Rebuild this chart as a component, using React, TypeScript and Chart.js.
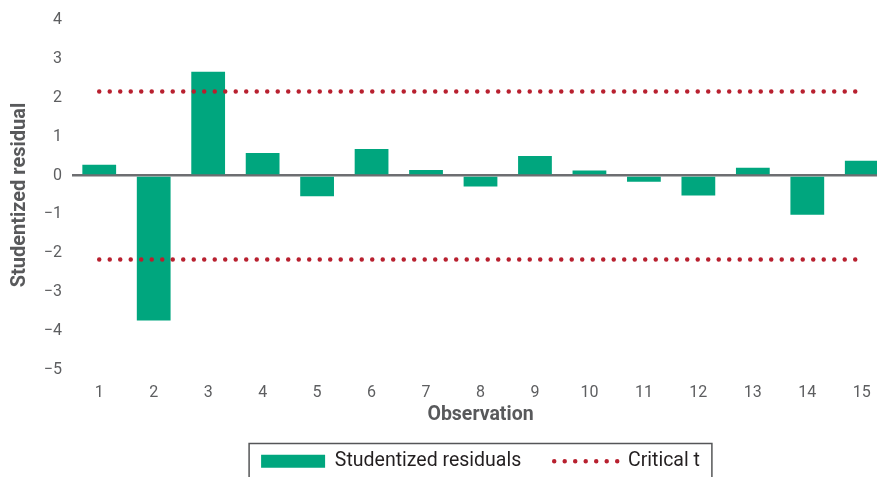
import React, { useEffect, useRef } from "react";
import { Chart, registerables } from "chart.js";

Chart.register(...registerables);

const observations = ["1", "2", "3", "4", "5", "6", "7", "8", "9", "10", "11", "12", "13", "14", "15"];
const residuals = [0.28, -3.73, 2.67, 0.58, -0.53, 0.68, 0.14, -0.28, 0.5, 0.13, -0.16, -0.51, 0.2, -1.01, 0.38];
const criticalUpper = [2.16, 2.16, 2.16, 2.16, 2.16, 2.16, 2.16, 2.16, 2.16, 2.16, 2.16, 2.16, 2.16, 2.16, 2.16];
const criticalLower = [-2.16, -2.16, -2.16, -2.16, -2.16, -2.16, -2.16, -2.16, -2.16, -2.16, -2.16, -2.16, -2.16, -2.16, -2.16];
const yTicks = [4, 3, 2, 1, 0, -1, -2, -3, -4, -5];

const GREEN = "#00a67e";
const RED = "#b8202f";
const TICK = "#5d5e60";
const TITLE = "#58595b";
const FONT = "Roboto, 'Noto Sans', sans-serif";

const legendBorder = {
  id: "legendBorder",
  afterDraw(chart: any) {
    const lg = chart.legend;
    if (!lg || !lg.legendHitBoxes || !lg.legendHitBoxes.length) return;
    const hb = lg.legendHitBoxes;
    let l = Infinity, r = -Infinity, t = Infinity;
    hb.forEach((b: any) => {
      l = Math.min(l, b.left);
      r = Math.max(r, b.left + b.width);
      t = Math.min(t, b.top);
    });
    const ctx = chart.ctx;
    ctx.save();
    ctx.strokeStyle = "#555658";
    ctx.lineWidth = 1.5;
    ctx.strokeRect(l - 12, t - 8, r - l + 24, 80);
    ctx.restore();
  },
};

export default function App() {
  const ref = useRef<HTMLCanvasElement | null>(null);

  useEffect(() => {
    if (!ref.current) return;
    const chart = new Chart(ref.current, {
      type: "bar",
      data: {
        labels: observations,
        datasets: [
          {
            type: "bar",
            label: "Studentized residuals",
            data: residuals,
            backgroundColor: GREEN,
            borderWidth: 0,
            barPercentage: 0.62,
            categoryPercentage: 1,
            order: 2,
          },
          {
            type: "line",
            label: "Critical t",
            data: criticalUpper,
            borderColor: RED,
            borderWidth: 4.5,
            borderDash: [0, 10.5],
            borderCapStyle: "round",
            pointRadius: 0,
            fill: false,
            order: 0,
          },
          {
            type: "line",
            label: "Critical t",
            data: criticalLower,
            borderColor: RED,
            borderWidth: 4.5,
            borderDash: [0, 10.5],
            borderCapStyle: "round",
            pointRadius: 0,
            fill: false,
            order: 0,
          },
        ] as any,
      },
      options: {
        animation: false,
        responsive: false,
        maintainAspectRatio: false,
        layout: { padding: { top: 20, left: 0, right: 6, bottom: 0 } },
        plugins: {
          tooltip: { enabled: false },
          legend: {
            position: "bottom",
            fullSize: false,
            labels: {
              usePointStyle: true,
              pointStyleWidth: 64,
              boxHeight: 13,
              padding: 33,
              color: "#231f20",
              font: { family: FONT, size: 19.5 },
              generateLabels: (c: any) => {
                const ds = c.data.datasets;
                return [
                  {
                    text: ds[0].label,
                    fillStyle: GREEN,
                    strokeStyle: GREEN,
                    lineWidth: 0,
                    pointStyle: "rect",
                    hidden: false,
                    datasetIndex: 0,
                    fontColor: "#231f20",
                  },
                  {
                    text: ds[1].label,
                    fillStyle: "rgba(0,0,0,0)",
                    strokeStyle: RED,
                    lineWidth: 4.5,
                    lineDash: [0, 10.5],
                    lineCap: "round",
                    pointStyle: "line",
                    hidden: false,
                    datasetIndex: 1,
                    fontColor: "#231f20",
                  },
                ];
              },
            },
          },
        },
        scales: {
          x: {
            grid: { display: false },
            border: { display: false },
            ticks: { color: TICK, font: { family: FONT, size: 16 }, padding: 5 },
            title: {
              display: true,
              text: "Observation",
              color: TITLE,
              font: { family: FONT, size: 19.5, weight: "bold", lineHeight: 0.3 },
              padding: { top: 0, bottom: 0 },
            },
            afterFit: (s: any) => {
              s.height = 48.5;
            },
          },
          y: {
            min: -5,
            max: 4,
            afterBuildTicks: (s: any) => {
              s.ticks = yTicks.map((v) => ({ value: v }));
            },
            grid: {
              drawTicks: false,
              lineWidth: 2.5,
              color: (ctx: any) => (ctx.tick && ctx.tick.value === 0 ? "#6d6e71" : "rgba(0,0,0,0)"),
            },
            border: { display: false },
            ticks: {
              color: TICK,
              font: { family: FONT, size: 16 },
              padding: 10,
              callback: (v: any) => String(v).replace("-", "\u2212"),
            },
            title: {
              display: true,
              text: "Studentized residual",
              color: TITLE,
              font: { family: FONT, size: 20, weight: "bold" },
              padding: { top: 8, bottom: 0 },
            },
            afterFit: (s: any) => {
              s.width = 72;
            },
          },
        },
      },
      plugins: [legendBorder],
    });
    return () => chart.destroy();
  }, []);

  return (
    <div style={{ position: "fixed", left: 0, top: 0, width: 877, height: 477, overflow: "hidden", background: "#fff" }}>
      <canvas ref={ref} width={895} height={481} style={{ width: 895, height: 481, display: "block" }} />
    </div>
  );
}
